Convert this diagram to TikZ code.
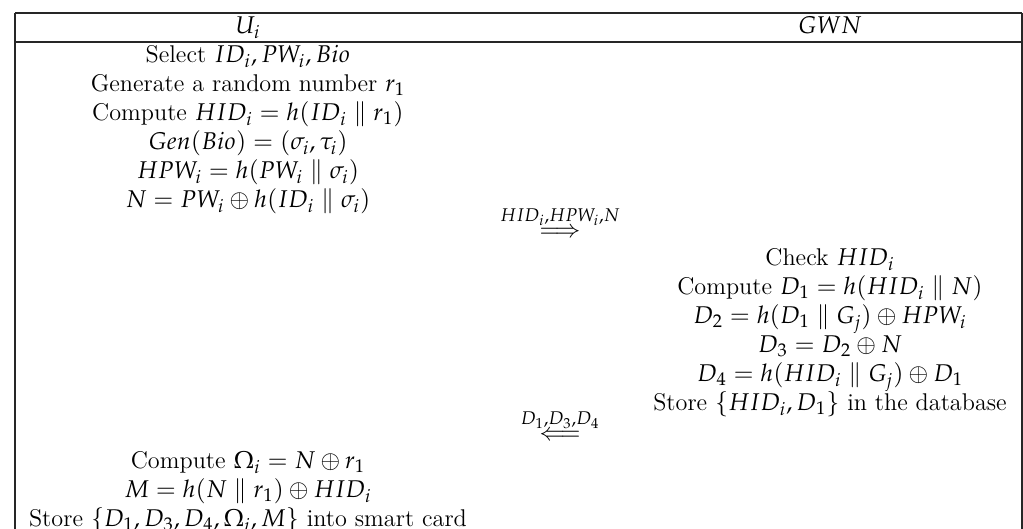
\documentclass[tikz,border=0pt]{standalone}
\usepackage{mathpazo}
\begin{document}
\begin{tikzpicture}[x=0.5pt,y=-0.5pt,
  txt/.style={anchor=base,inner sep=0pt,font=\fontsize{12.1}{14}\selectfont},
  tabrule/.style={line width=0.6pt,draw=black!85}]
\useasboundingbox (0,0) rectangle (1023,529);
% table frame
\coordinate (tl) at (15,13);
\coordinate (tr) at (1022,13);
\coordinate (hl) at (15,42);
\coordinate (hr) at (1022,42);
\coordinate (bl) at (15,529);
\coordinate (br) at (1022,529);
\draw[tabrule] (tl) -- (tr);
\draw[tabrule] (hl) -- (hr);
\draw[tabrule] (tl) -- (bl);
\draw[tabrule] (tr) -- (br);
% header
\node[txt] (u) at (248,33.3) {$U_i$};
\node[txt] (g) at (830,33.3) {$GWN$};
% user side, first block
\node[txt] (l1) at (248,62.3) {Select $ID_i, PW_i, Bio$};
\node[txt] (l2) at (248,91.3) {Generate a random number $r_1$};
\node[txt] (l3) at (248,120.3) {Compute $HID_i = h(ID_i \parallel r_1)$};
\node[txt] (l4) at (248,149.3) {$Gen(Bio) = (\sigma_i, \tau_i)$};
\node[txt] (l5) at (248,178.3) {$HPW_i = h(PW_i \parallel \sigma_i)$};
\node[txt] (l6) at (248,207.3) {$N = PW_i \oplus h(ID_i \parallel \sigma_i)$};
% message 1
\node[txt] (m1) at (560,237.3) {$\stackrel{HID_i,HPW_i,N}{\Longrightarrow}$};
% gateway side
\node[txt] (r1) at (830,265.3) {Check $HID_i$};
\node[txt] (r2) at (830,294.3) {Compute $D_1 = h(HID_i \parallel N)$};
\node[txt] (r3) at (830,323.3) {$D_2 = h(D_1 \parallel G_j) \oplus HPW_i$};
\node[txt] (r4) at (830,352.3) {$D_3 = D_2 \oplus N$};
\node[txt] (r5) at (830,381.3) {$D_4 = h(HID_i \parallel G_j) \oplus D_1$};
\node[txt] (r6) at (830,410.3) {Store $\{HID_i, D_1\}$ in the database};
% message 2
\node[txt] (m2) at (560,440.3) {$\stackrel{D_1,D_3,D_4}{\Longleftarrow}$};
% user side, second block
\node[txt] (b1) at (248,468.3) {Compute $\Omega_i = N \oplus r_1$};
\node[txt] (b2) at (248,497.3) {$M = h(N \parallel r_1) \oplus HID_i$};
\node[txt] (b3) at (248,526.3) {Store $\{D_1, D_3, D_4, \Omega_i, M\}$ into smart card};
\end{tikzpicture}
\end{document}
